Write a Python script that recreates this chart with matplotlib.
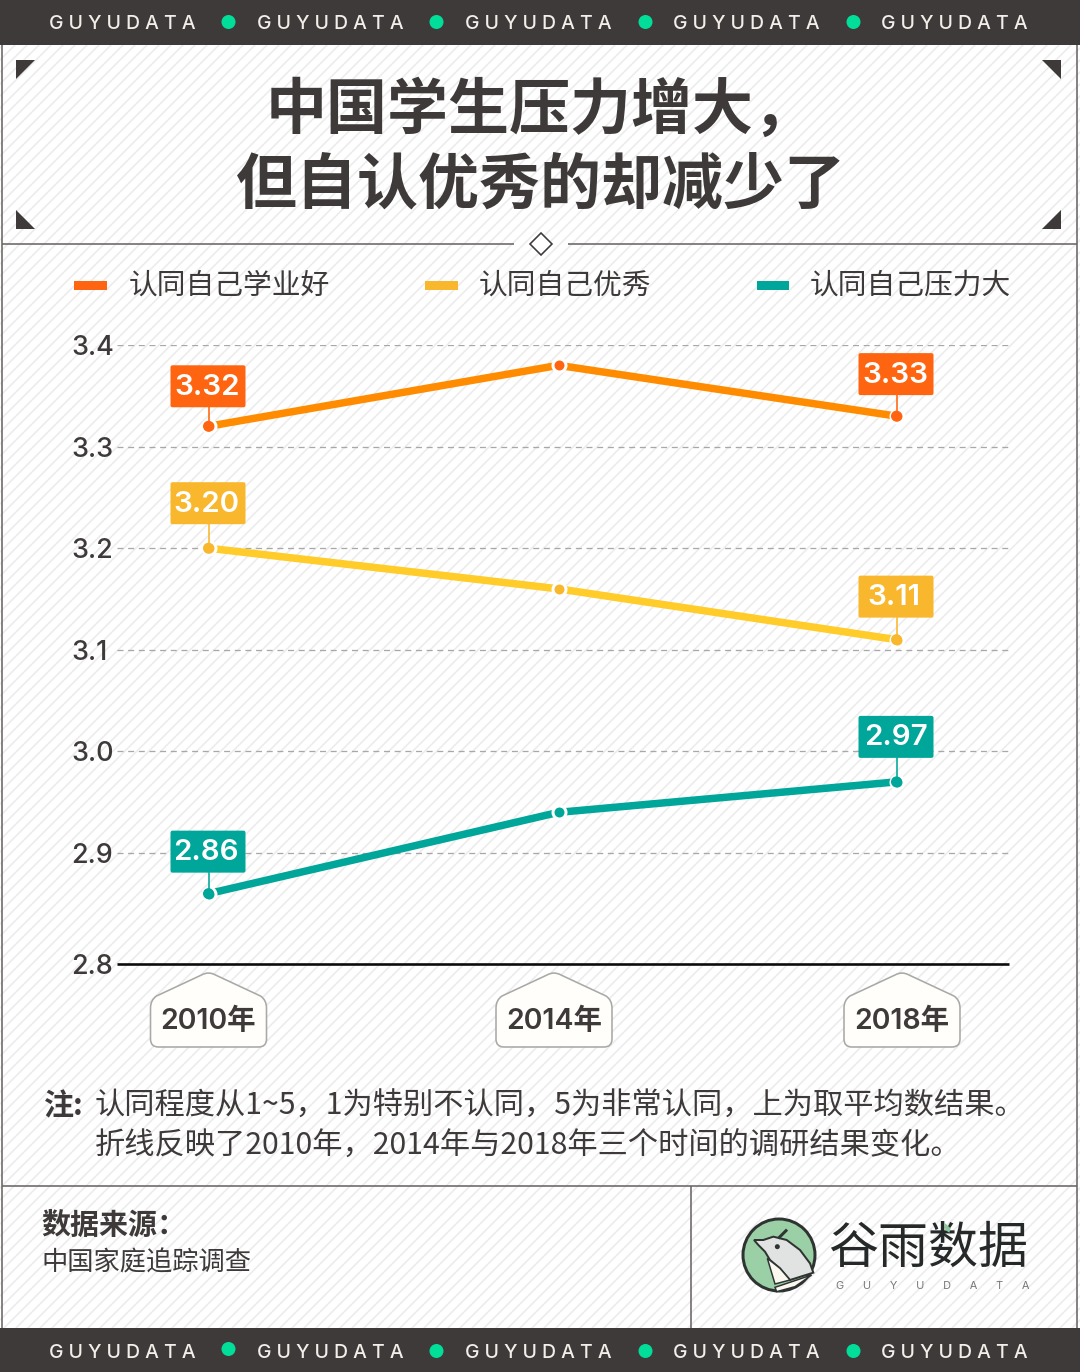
import numpy as np
import matplotlib
matplotlib.use("Agg")
import matplotlib.pyplot as plt
from matplotlib.collections import LineCollection
from matplotlib.patches import Rectangle, Polygon, Circle, FancyBboxPatch, PathPatch
from matplotlib.path import Path

# ---------- data ----------
years = ["2010年", "2014年", "2018年"]
series_names = ["认同自己学业好", "认同自己优秀", "认同自己压力大"]
academic = [3.32, 3.38, 3.33]
excellent = [3.20, 3.16, 3.11]
pressure = [2.86, 2.94, 2.97]
y_grid = [2.9, 3.0, 3.1, 3.2, 3.3, 3.4]
y_base_label = 2.8
title_lines = ["中国学生压力增大，", "但自认优秀的却减少了"]
note_lines = ["认同程度从1~5，1为特别不认同，5为非常认同，上为取平均数结果。",
              "折线反映了2010年，2014年与2018年三个时间的调研结果变化。"]
source_head = "数据来源："
source_body = "中国家庭追踪调查"

# ---------- style / layout ----------
W, H = 1080, 1372
DARK = "#3E3A39"
CJK = ["Noto Sans CJK SC", "DejaVu Sans"]
NUM = ["Inter", "Noto Sans CJK SC", "DejaVu Sans"]
plt.rcParams["font.family"] = CJK
px = lambda v: v * 0.72

fig = plt.figure(figsize=(W / 100, H / 100), dpi=100, facecolor="white")

def overlay(z):
    a = fig.add_axes([0, 0, 1, 1], zorder=z)
    a.set_xlim(0, W)
    a.set_ylim(H, 0)
    a.axis("off")
    a.patch.set_alpha(0)
    return a

bg = overlay(0)
top = overlay(2)

# diagonal stripe texture
segs = [[(c, 0), (c - H, H)] for c in np.arange(0, W + H, 12)]
bg.add_collection(LineCollection(segs, colors="#EBEBEB", linewidths=px(1.5), zorder=0))

# bands
for y0, y1 in [(0, 45), (1328, 1372)]:
    bg.add_patch(Rectangle((0, y0), W, y1 - y0, color=DARK, lw=0, zorder=3))
for yc, dots in [(24, [22, 22, 22, 22]), (1353, [1349, 1351, 1351, 1351])]:
    for xc in [122.5, 330.5, 538.5, 746.5, 954.5]:
        bg.text(xc, yc, "G U Y U D A T A", color="#F2EFEA", family=["Inter", "DejaVu Sans"],
                fontsize=px(19.4), fontweight="medium", ha="center", va="center", zorder=4)
    for xc, yd in zip([228.5, 436.5, 645.5, 853.5], dots):
        bg.add_patch(Circle((xc, yd), 7, color="#00DE9A", lw=0, zorder=4))

# frame lines
LINE = "#6A6665"
for xy in [((2, 45), (2, 1328)), ((1077, 45), (1077, 1328)),
           ((2, 244), (514, 244)), ((568, 244), (1077, 244)),
           ((2, 1186), (1077, 1186)), ((691, 1186), (691, 1328))]:
    bg.plot(*zip(*xy), color=LINE, lw=px(1.6), solid_capstyle="butt", zorder=2)
bg.add_patch(Polygon([(530, 244), (541, 233), (552, 244), (541, 255)], closed=True,
                     fc="white", ec=DARK, lw=px(1.6), zorder=2))
for tri in [[(16, 60), (35, 60), (16, 79)], [(1061, 60), (1042, 60), (1061, 79)],
            [(16, 210), (16, 229), (35, 229)], [(1061, 210), (1061, 229), (1042, 229)]]:
    bg.add_patch(Polygon(tri, closed=True, color=DARK, lw=0, zorder=2))

# title
for text, yc in zip(title_lines, [111, 186]):
    bg.text(540.5, yc, text, color=DARK, fontsize=px(61), fontweight="bold",
            ha="center", va="center", zorder=3)

# legend
leg_cols = ["#FF6510", "#F9B72E", "#00A699"]
for name, col, x0, x1, tx in zip(series_names, leg_cols, [74, 425, 757], [107, 458, 789], [129, 479, 810]):
    bg.add_patch(Rectangle((x0, 281), x1 - x0, 9, color=col, lw=0, zorder=2))
    bg.text(tx, 286, name, color=DARK, fontsize=px(28.8), ha="left", va="center", zorder=3)

# ---------- chart ----------
A_L, A_R, A_T, A_B = 117, 1009, 345, 964
# gridlines are evenly spaced at 101.6 px per 0.1; the baseline sits a little lower than 2.8 would
PX_PER_UNIT = 1016.0
y_top = y_grid[-1]
y_floor = y_top - (A_B - A_T) / PX_PER_UNIT
ax = fig.add_axes([A_L / W, 1 - A_B / H, (A_R - A_L) / W, (A_B - A_T) / H], zorder=1)
ax.patch.set_alpha(0)
ax.set_xlim(A_L, A_R)
ax.set_ylim(y_floor, y_top)
for s in ["top", "left", "right"]:
    ax.spines[s].set_visible(False)
ax.spines["bottom"].set_color("#0A0A0A")
ax.spines["bottom"].set_linewidth(px(2.6))
ax.spines["bottom"].set_capstyle("butt")
ax.set_yticks([y_floor] + y_grid)
ax.set_yticklabels([f"{y_base_label:.1f}"] + [f"{v:.1f}" for v in y_grid], family=NUM, fontsize=px(27),
                   fontweight="medium", color=DARK, ha="left")
ax.tick_params(axis="y", length=0, pad=px(46))
ax.grid(axis="y", color="#A8A8A8", lw=px(1.3), ls=(0, (4.6, 3.6)))
ax.set_axisbelow(True)

point_x = [208.5, 558.5, 896.5]
badge_x = [208.5, 554, 902]
ax.set_xticks(badge_x)
ax.set_xticklabels(years, family=NUM, fontsize=px(28.5), fontweight="semibold", color=DARK)
ax.tick_params(axis="x", length=0, pad=px(44))

line_cols = ["#FF8C00", "#FFCC29", "#00A699"]
dot_cols = ["#FF6510", "#F9B72E", "#00A699"]
all_series = [academic, excellent, pressure]
for vals, lc, dc in zip(all_series, line_cols, dot_cols):
    ax.plot(point_x, vals, color=lc, lw=px(7.5), solid_capstyle="butt", zorder=3)
    ax.plot(point_x, vals, ls="none", marker="o", ms=px(13), mfc=dc, mec="white",
            mew=px(3), zorder=4)

# value labels: (series, point index, gap between box and point)
callouts = [(0, 0, 19), (0, 2, 21), (1, 0, 24), (1, 2, 22), (2, 0, 21), (2, 2, 24)]
for si, pi, gap in callouts:
    v = all_series[si][pi]
    xp, yp = ax.transData.transform((point_x[pi], v))
    yp = H - yp
    yb = yp - gap
    col = dot_cols[si]
    top.plot([xp, xp], [yb, yp], color=col, lw=px(1.6), zorder=2)
    top.add_patch(Circle((xp, yp), 5.5, color=col, lw=0, zorder=2))
    top.add_patch(FancyBboxPatch((xp - 38, yb - 42), 75, 42, boxstyle="round,pad=0,rounding_size=2",
                                 fc=col, ec="none", zorder=3))
    dx = -2.5 if (si, pi) in [(1, 0), (2, 0), (1, 2)] else -1
    top.text(xp + dx, yb - 20, f"{v:.2f}", color="white", family=NUM, fontsize=px(29.5),
             fontweight="semibold", ha="center", va="center", zorder=4)

# year badges
def badge(xc):
    l, r, t, s, b = xc - 58, xc + 58, 972, 1000, 1047
    k = 8
    verts = [(l, s + k), (l, b - k), (l, b), (l + k, b), (r - k, b), (r, b), (r, b - k),
             (r, s + k), (r, s), (r - 6, s - 4), (xc + 7, t + 3), (xc, t - 1), (xc - 7, t + 3),
             (l + 6, s - 4), (l, s), (l, s + k)]
    codes = [Path.MOVETO, Path.LINETO, Path.CURVE3, Path.CURVE3, Path.LINETO, Path.CURVE3, Path.CURVE3,
             Path.LINETO, Path.CURVE3, Path.CURVE3, Path.LINETO, Path.CURVE3, Path.CURVE3,
             Path.LINETO, Path.CURVE3, Path.CURVE3]
    bg.add_patch(PathPatch(Path(verts, codes), fc="#FFFEFA", ec="#A9A9A7", lw=px(1.6), zorder=2))
for xc in badge_x:
    badge(xc)

# notes
bg.text(43.5, 1106, "注:", color=DARK, fontsize=px(30), fontweight="bold", ha="left", va="center", zorder=3)
for text, yc in zip(note_lines, [1106, 1146]):
    bg.text(95, yc, text, color=DARK, fontsize=px(30.25), ha="left", va="center", zorder=3)

# source
bg.text(41.5, 1225, source_head, color=DARK, fontsize=px(29), fontweight="bold", ha="left", va="center", zorder=3)
bg.text(41.5, 1263, source_body, color=DARK, fontsize=px(26.3), ha="left", va="center", zorder=3)

# logo
lg = lambda pts: [(680 + a / 3, 1180 + b / 3) for a, b in pts]
disc = Circle((779, 1255), 36, fc="#9BCFA6", ec="#2F3433", lw=px(3), zorder=3)
bg.add_patch(disc)
body = Polygon(lg([(222, 180), (250, 180), (280, 170), (320, 180), (360, 210), (390, 250), (400, 278),
                   (330, 300), (300, 265), (270, 240), (255, 215), (235, 195)]), closed=True,
               fc="#E0E3E2", ec="#2F3433", lw=px(2), zorder=4)
belly = Polygon(lg([(262, 235), (300, 265), (330, 300), (285, 312)]), closed=True,
                fc="#FBF8F0", ec="#2F3433", lw=px(1.5), zorder=4)
wing = Polygon(lg([(285, 322), (395, 285), (345, 320), (290, 335)]), closed=True,
               fc="#FBF8F0", ec="#2F3433", lw=px(1.5), zorder=4)
for p in (body, belly, wing):
    bg.add_patch(p)
bg.plot(*zip(*lg([(298, 172), (318, 152)])), color="#2F3433", lw=px(3), zorder=5)
bg.add_patch(Circle(lg([(292, 200)])[0], 2.5, color="#2F3433", lw=0, zorder=5))
bg.add_patch(Polygon(lg([(793, 128), (812, 145), (808, 158), (796, 150)]), closed=True,
                     color="#8CC79A", lw=0, zorder=5))
bg.text(928, 1249, "谷雨数据", color="#26292A", fontsize=px(50), ha="center", va="center", zorder=4)
bg.text(933, 1286, "      ".join("GUYUDATA"), color="#777777", family=["Inter", "DejaVu Sans"],
        fontsize=px(11), ha="center", va="center", zorder=4)

fig.savefig("out.png", dpi=100)
